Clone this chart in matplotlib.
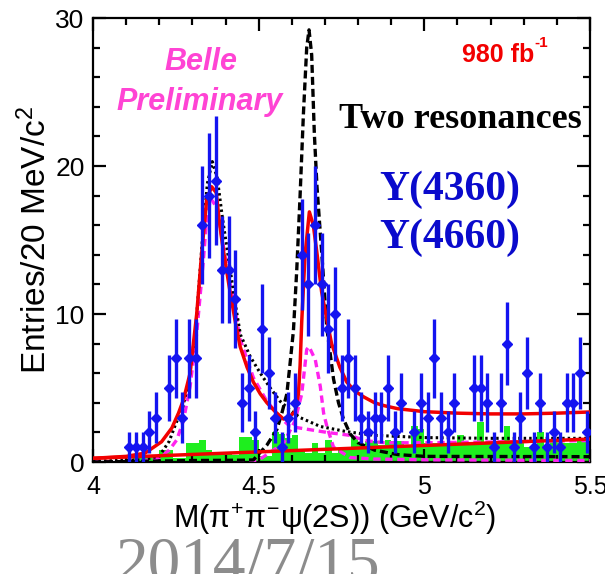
import numpy as np
import matplotlib.pyplot as plt
from matplotlib.ticker import MultipleLocator

plt.rcParams['font.family'] = ['Liberation Sans', 'DejaVu Sans']
plt.rcParams['mathtext.fontset'] = 'custom'
plt.rcParams['mathtext.rm'] = 'Liberation Sans'
plt.rcParams['mathtext.it'] = 'Liberation Sans'
plt.rcParams['mathtext.bf'] = 'Liberation Sans:bold'

# M(pi+ pi- psi(2S)) spectrum, 20 MeV bins from 4.00 to 5.50 GeV
bin_lo = 4.0
bin_w = 0.02
counts = [0, 0, 0, 0, 0,
          1, 1, 1, 2, 3,
          0, 5, 7, 3, 7,
          7, 16, 18, 19, 13,
          13, 11, 4, 5, 2,
          9, 6, 3, 1, 3,
          4, 14, 12, 16, 12,
          9, 10, 5, 7, 5,
          3, 2, 3, 3, 5,
          2, 4, 0, 2, 4,
          3, 7, 3, 2, 4,
          0, 0, 5, 5, 4,
          1, 4, 8, 1, 3,
          6, 1, 4, 1, 2,
          1, 4, 4, 6, 2]

# sideband (non-resonant) histogram, same binning
sideband = [0, 0, 0, 0, 0,
            0, 0.25, 0.25, 0.4, 0.4,
            0.8, 0.8, 0.3, 0.3, 1.3,
            1.3, 1.5, 0.8, 0.6, 0.6,
            0.6, 0.5, 1.7, 1.7, 1.5,
            0.4, 0.4, 2.0, 1.9, 1.6,
            1.8, 0.8, 0.6, 1.3, 0.6,
            1.5, 0.6, 0.8, 1.0, 1.7,
            1.15, 1.4, 1.4, 1.15, 1.5,
            1.4, 1.4, 1.0, 2.4, 2.2,
            1.3, 1.3, 1.3, 1.3, 1.3,
            1.8, 1.3, 1.3, 2.7, 1.3,
            1.3, 1.3, 2.4, 1.3, 1.3,
            1.0, 1.0, 2.0, 1.15, 1.5,
            1.5, 1.3, 1.3, 1.4, 1.4]

# fit with two coherent resonances (total)
fit_x = [4.00, 4.10, 4.157, 4.207, 4.238, 4.258, 4.273, 4.293, 4.313, 4.328,
         4.343, 4.358, 4.372, 4.38, 4.39, 4.41, 4.43, 4.444, 4.465, 4.484,
         4.505, 4.525, 4.55, 4.575, 4.60, 4.61, 4.62, 4.625, 4.63, 4.64,
         4.653, 4.665, 4.676, 4.69, 4.706, 4.72, 4.745, 4.766, 4.79, 4.817,
         4.85, 4.88, 4.92, 5.00, 5.10, 5.20, 5.30, 5.40, 5.50]
fit_y = [0.25, 0.38, 0.6, 1.37, 2.3, 3.3, 4.2, 6.0, 10.0, 14.1,
         17.7, 18.6, 18.2, 16.5, 14.8, 12.0, 9.4, 7.8, 6.4, 5.4,
         4.6, 4.0, 3.4, 2.9, 3.2, 3.4, 4.6, 6.5, 9.5, 14.0,
         16.9, 16.0, 14.1, 11.5, 9.6, 8.0, 6.4, 5.4, 4.8, 4.4,
         4.0, 3.8, 3.6, 3.4, 3.3, 3.25, 3.25, 3.3, 3.38]

# linear background
bkg_x = [4.0, 5.5]
bkg_y = [0.25, 1.55]

# Y(4360) alone
y4360_x = [4.00, 4.15, 4.20, 4.23, 4.25, 4.27, 4.29, 4.31, 4.33, 4.345,
           4.36, 4.375, 4.39, 4.41, 4.43, 4.445, 4.475, 4.505, 4.535, 4.565,
           4.595, 4.625, 4.686, 4.766, 4.85, 5.00, 5.20, 5.50]
y4360_y = [0.05, 0.15, 0.4, 1.4, 2.6, 3.6, 5.6, 9.0, 15.0, 18.8,
           20.3, 19.2, 16.6, 13.6, 10.6, 8.6, 7.1, 6.0, 5.0, 4.1,
           3.5, 3.0, 2.4, 2.05, 1.8, 1.65, 1.6, 1.6]

# Y(4660) alone
y4660_x = [4.00, 4.30, 4.45, 4.484, 4.525, 4.555, 4.57, 4.585, 4.595, 4.605,
           4.615, 4.625, 4.635, 4.645, 4.652, 4.66, 4.668, 4.676, 4.691, 4.706,
           4.726, 4.741, 4.756, 4.776, 4.80, 4.85, 4.92, 5.00, 5.50]
y4660_y = [0.0, 0.1, 0.12, 0.14, 1.15, 2.2, 3.3, 4.6, 6.7, 8.9,
           13.0, 18.0, 23.5, 28.0, 29.2, 27.5, 22.2, 18.6, 13.9, 9.0,
           5.6, 4.0, 2.9, 1.9, 1.3, 0.8, 0.5, 0.38, 0.36]

# individual components of the two-resonance fit
comp1_x = [4.00, 4.15, 4.20, 4.23, 4.253, 4.273, 4.293, 4.313, 4.333, 4.343,
           4.355, 4.374, 4.394, 4.414, 4.434, 4.444, 4.484, 4.525, 4.565, 4.595,
           4.65, 4.706, 4.776, 4.82, 4.88, 5.00, 5.20, 5.50]
comp1_y = [0.0, 0.05, 0.3, 0.8, 1.5, 2.8, 5.1, 8.7, 13.6, 16.4,
           17.8, 17.2, 14.5, 12.0, 9.6, 8.3, 5.7, 4.1, 3.0, 2.4,
           2.2, 2.0, 1.8, 1.45, 1.3, 1.3, 1.35, 1.45]

comp2_x = [4.00, 4.40, 4.50, 4.575, 4.61, 4.63, 4.645, 4.652, 4.671, 4.686,
           4.696, 4.706, 4.726, 4.776, 4.85, 5.00, 5.50]
comp2_y = [0.0, 0.0, 0.13, 1.26, 2.8, 4.6, 7.6, 7.8, 6.9, 5.1,
           3.3, 2.4, 1.0, 0.3, 0.2, 0.15, 0.1]

red = '#f20000'
blue = '#1414f0'
magenta = '#ff22ee'

fig = plt.figure(figsize=(6.05, 5.74), dpi=100)
ax = fig.add_axes([93 / 605, 1 - 462 / 574, 497 / 605, 444 / 574])

n_bins = len(counts)
edges = bin_lo + bin_w * np.arange(n_bins + 1)
centers = edges[:-1] + bin_w / 2
counts = np.array(counts, dtype=float)

ax.bar(edges[:-1], sideband, width=bin_w, align='edge', color='#1eee1e',
       linewidth=0, zorder=1)

ax.plot([4.0, 5.5], [0.02, 0.02], color=blue, lw=2.2, zorder=2)
ax.plot(comp2_x, comp2_y, color=magenta, lw=2.4, ls=(0, (2.2, 1.4)), zorder=3)
ax.plot(comp1_x, comp1_y, color=magenta, lw=2.4, ls=(0, (2.2, 1.4)), zorder=3)
ax.plot(y4360_x, y4360_y, color='black', lw=2.2, ls=(0, (0.8, 1.0)), zorder=4)
ax.plot(y4660_x, y4660_y, color='black', lw=2.4, ls=(0, (2.4, 1.2)), zorder=4)
ax.plot(bkg_x, bkg_y, color=red, lw=2.5, zorder=5)
ax.plot(fit_x, fit_y, color=red, lw=2.5, zorder=5)

nz = counts > 0
ax.errorbar(centers[nz], counts[nz], yerr=np.sqrt(counts[nz]), fmt='D',
            color=blue, ms=5.2, elinewidth=2.4, capsize=0, zorder=6)

ax.set_xlim(4.0, 5.5)
ax.set_ylim(0, 30)
ax.xaxis.set_major_locator(MultipleLocator(0.5))
ax.xaxis.set_minor_locator(MultipleLocator(0.1))
ax.yaxis.set_major_locator(MultipleLocator(10))
ax.yaxis.set_minor_locator(MultipleLocator(2))
ax.xaxis.set_major_formatter(plt.FuncFormatter(lambda v, p: f'{v:g}'))
ax.tick_params(which='both', direction='in', top=True, right=True, width=1.6)
ax.tick_params(which='major', length=9.5)
ax.tick_params(which='minor', length=5)
ax.tick_params(axis='x', labelsize=18, pad=9)
ax.tick_params(axis='y', labelsize=19, pad=6)
for s in ax.spines.values():
    s.set_linewidth(1.6)

fig.text(36 / 605, 1 - 240 / 574, r'Entries/20 MeV/c$^{2}$', rotation=90,
         ha='center', va='center', fontsize=24)
fig.text(335 / 605, 1 - 518 / 574,
         r'M($\pi^{+}\pi^{-}\psi$(2S)) (GeV/c$^{2}$)',
         ha='center', va='center', fontsize=22)

pink = '#ff44d4'
ax.text(0.217, 0.883, 'Belle', transform=ax.transAxes, ha='center',
        va='baseline', color=pink, fontsize=22, fontweight='bold',
        fontstyle='italic')
ax.text(0.215, 0.793, 'Preliminary', transform=ax.transAxes, ha='center',
        va='baseline', color=pink, fontsize=22, fontweight='bold',
        fontstyle='italic')
lumi = ax.text(0.742, 0.901, '980 fb', transform=ax.transAxes, ha='left',
               va='baseline', color=red, fontsize=18, fontweight='bold')
ax.annotate('-1', xy=(1.0, 0.72), xycoords=lumi, ha='left', va='bottom',
            color=red, fontsize=11, fontweight='bold')
ax.text(0.984, 0.752, 'Two resonances', transform=ax.transAxes, ha='right',
        va='baseline', color='black', fontsize=26, fontweight='bold',
        family='Liberation Serif')
ax.text(0.718, 0.59, 'Y(4360)', transform=ax.transAxes, ha='center',
        va='baseline', color='#0a0acc', fontsize=30, fontweight='bold',
        family='Liberation Serif')
ax.text(0.718, 0.482, 'Y(4660)', transform=ax.transAxes, ha='center',
        va='baseline', color='#0a0acc', fontsize=30, fontweight='bold',
        family='Liberation Serif')

fig.text(115 / 605, 1 - 582 / 574, '2014/7/15', ha='left', va='baseline',
         color='#8c8c8c', fontsize=47, family='Liberation Serif')

fig.savefig('out.png', dpi=100)
